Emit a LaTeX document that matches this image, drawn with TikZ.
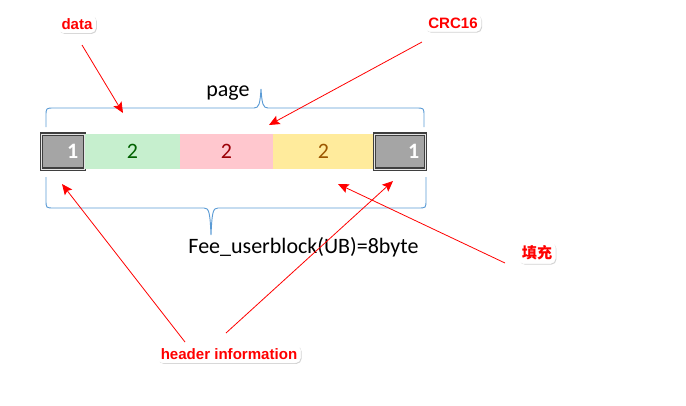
\documentclass[tikz,border=0pt]{standalone}
\usepackage{fontspec}
\setmainfont{Carlito}
\newfontfamily\lblfont{Liberation Sans}
\newfontfamily\cjk{Noto Sans CJK SC}
\usetikzlibrary{arrows.meta, positioning, shadows}

\definecolor{braceblue}{RGB}{91,155,213}
\definecolor{hdrgray}{RGB}{165,165,165}
\definecolor{hdrline}{RGB}{63,63,63}
\definecolor{goodfill}{RGB}{198,239,206}
\definecolor{goodtext}{RGB}{0,97,0}
\definecolor{badfill}{RGB}{255,199,206}
\definecolor{badtext}{RGB}{156,0,6}
\definecolor{neutralfill}{RGB}{255,235,156}
\definecolor{neutraltext}{RGB}{156,87,0}

\begin{document}
\begin{tikzpicture}[x=0.75pt, y=-0.75pt,
    cell/.style={minimum height=26.25pt, inner sep=0pt, font=\fontsize{16.5}{18}\selectfont},
    hdr/.style={cell, fill=hdrgray, draw=hdrline, line width=0.8pt, double=white!70!hdrgray, double distance=0.75pt,
                text=white, font=\bfseries\fontsize{16.5}{18}\selectfont, inner xsep=4.5pt, text width=#1, align=right},
    bytes/.style={cell, fill=#1, minimum width=0pt},
    brace/.style={draw=braceblue, line width=0.7pt},
    callout/.style={draw=white, fill=white, rounded corners=4pt, inner sep=2.5pt, text=red,
                    font=\lblfont\bfseries\fontsize{11.3}{13}\selectfont,
                    drop shadow={shadow xshift=0.8pt, shadow yshift=-0.8pt, opacity=0.35}},
    pointer/.style={draw=red, line width=0.6pt, -{Stealth[length=8pt, width=7pt, inset=1.5pt]}}
]
    \useasboundingbox (0,0) rectangle (686,405);

    % the 8 bytes of one user block
    \node[hdr=23pt]  (hdrL) at (63,151.5)    {1};
    \node[bytes=goodfill, minimum width=71.25pt, text=goodtext]       (dataCell) at (132.5,151.5) {2};
    \node[bytes=badfill, minimum width=69.75pt, text=badtext]         (crcCell)  at (226.5,151.5) {2};
    \node[bytes=neutralfill, minimum width=75.75pt, text=neutraltext] (padCell)  at (323.5,151.5) {2};
    \node[hdr=29pt]  (hdrR) at (400,151.5)   {1};

    % braces
    \draw[brace] (46,127) -- (46,116) .. controls (46,108) .. (54,108) -- (254,108)
        .. controls (259,108) and (260,104) .. (261,89) .. controls (262,104) and (263,108) .. (268,108)
        -- (416,108) .. controls (424,108) .. (424,116) -- (424,127);
    \draw[brace] (46,177) -- (46,200) .. controls (46,208) .. (54,208) -- (204,208)
        .. controls (209,208) and (210,212) .. (211,235) .. controls (212,212) and (213,208) .. (218,208)
        -- (418,208) .. controls (426,208) .. (426,200) -- (426,177);

    \node[anchor=base, font=\fontsize{16.5}{18}\selectfont] (page) at (228,96) {page};
    \node[anchor=base, font=\fontsize{16.5}{18}\selectfont] (ub)   at (303.5,253) {Fee\_userblock(UB)=8byte};

    % callouts
    \node[callout] (dataLbl)  at (77,24)   {data};
    \node[callout] (crcLbl)   at (453,23)  {CRC16};
    \node[callout, font=\cjk\bfseries\fontsize{11.3}{13}\selectfont] (padLbl) at (537,253) {填充};
    \node[callout] (hdrLbl)   at (229,354) {header information};

    \coordinate (dataFrom) at (82,45);   \coordinate (dataTo) at (123,113);
    \coordinate (crcFrom)  at (422,42);  \coordinate (crcTo)  at (269,125);
    \coordinate (padFrom)  at (505,263); \coordinate (padTo)  at (338,184);
    \coordinate (hdrFromL) at (185,342); \coordinate (hdrToL) at (62,184);
    \coordinate (hdrFromR) at (226,333); \coordinate (hdrToR) at (393,181);

    \draw[pointer] (dataFrom) -- (dataTo);
    \draw[pointer] (crcFrom)  -- (crcTo);
    \draw[pointer] (padFrom)  -- (padTo);
    \draw[pointer] (hdrFromL) -- (hdrToL);
    \draw[pointer] (hdrFromR) -- (hdrToR);
\end{tikzpicture}
\end{document}
